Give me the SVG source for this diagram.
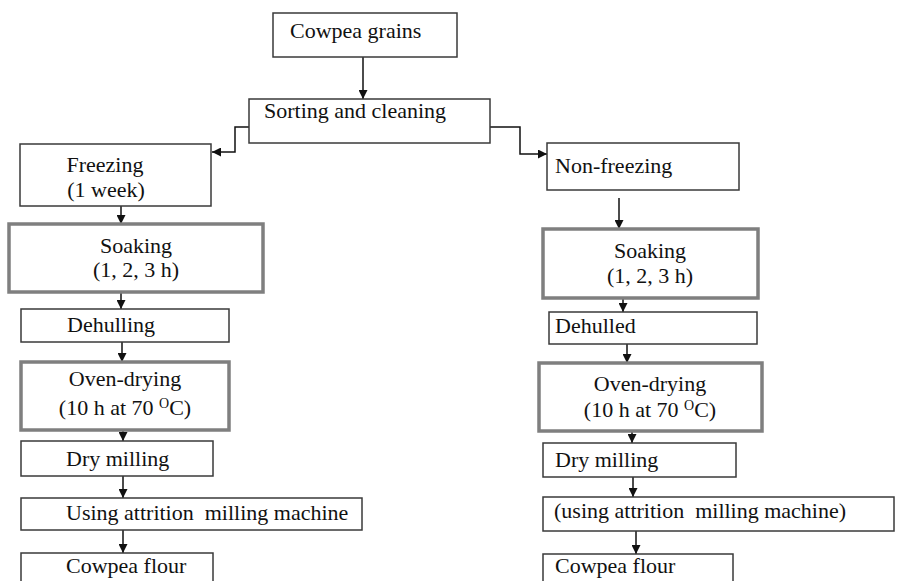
<svg xmlns="http://www.w3.org/2000/svg" width="897" height="581" viewBox="0 0 897 581">
<style>
.box{fill:#fff;stroke:#3a3a3a;stroke-width:1.5}
.thick{fill:#fff;stroke:#7f7f7f;stroke-width:3.5}
.m{text-anchor:middle}
.con{fill:none;stroke:#111;stroke-width:1.5;marker-end:url(#ah)}
</style>
<defs>
<marker id="ah" markerUnits="userSpaceOnUse" markerWidth="9" markerHeight="9" refX="9" refY="4.5" orient="auto">
<path d="M0,0 L9,4.5 L0,9 z" fill="#111"/>
</marker>
</defs>
<rect width="897" height="581" fill="#fff"/>
<g id="connectors">
<path class="con" d="M363,57 V99"/>
<path class="con" d="M249,127 H235 V152 H212"/>
<path class="con" d="M490,127 H520 V154 H547"/>
<path class="con" d="M121,206 V224"/>
<path class="con" d="M121,292 V309"/>
<path class="con" d="M122,342 V362"/>
<path class="con" d="M123,430 V441"/>
<path class="con" d="M123,476 V498"/>
<path class="con" d="M123,530 V553"/>
<path class="con" d="M619,198 V229"/>
<path class="con" d="M623,298 V312"/>
<path class="con" d="M627,344 V363"/>
<path class="con" d="M632,431 V443"/>
<path class="con" d="M633,477 V497"/>
<path class="con" d="M636,531 V554"/>
</g>
<g id="cowpea-grains"><rect class="box" x="273" y="13" width="184" height="44"/><text font-family="'Liberation Serif', serif" font-size="22" fill="#111" x="290" y="38">Cowpea grains</text></g>
<g id="sorting"><rect class="box" x="249" y="99" width="241" height="44"/><text font-family="'Liberation Serif', serif" font-size="22" fill="#111" x="264" y="118">Sorting and cleaning</text></g>
<g id="freezing"><rect class="box" x="20" y="144" width="191" height="62"/><text font-family="'Liberation Serif', serif" font-size="22" fill="#111" class="m" x="105" y="172">Freezing</text><text font-family="'Liberation Serif', serif" font-size="22" fill="#111" class="m" x="106" y="197">(1 week)</text></g>
<g id="non-freezing"><rect class="box" x="547" y="143" width="192" height="47"/><text font-family="'Liberation Serif', serif" font-size="22" fill="#111" x="555" y="173">Non-freezing</text></g>
<g id="soaking-left"><rect class="thick" x="9" y="224" width="254" height="68"/><text font-family="'Liberation Serif', serif" font-size="22" fill="#111" class="m" x="136" y="253">Soaking</text><text font-family="'Liberation Serif', serif" font-size="22" fill="#111" class="m" x="136" y="277">(1, 2, 3 h)</text></g>
<g id="soaking-right"><rect class="thick" x="543" y="229" width="215" height="69"/><text font-family="'Liberation Serif', serif" font-size="22" fill="#111" class="m" x="650" y="258">Soaking</text><text font-family="'Liberation Serif', serif" font-size="22" fill="#111" class="m" x="650" y="283">(1, 2, 3 h)</text></g>
<g id="dehulling"><rect class="box" x="21" y="309" width="208" height="33"/><text font-family="'Liberation Serif', serif" font-size="22" fill="#111" x="67" y="332">Dehulling</text></g>
<g id="dehulled"><rect class="box" x="549" y="312" width="208" height="32"/><text font-family="'Liberation Serif', serif" font-size="22" fill="#111" x="555" y="333">Dehulled</text></g>
<g id="oven-left"><rect class="thick" x="21" y="362" width="208" height="68"/><text font-family="'Liberation Serif', serif" font-size="22" fill="#111" class="m" x="125" y="386">Oven-drying</text><text font-family="'Liberation Serif', serif" font-size="22" fill="#111" class="m" x="125" y="415">(10 h at 70 <tspan font-size="14" dy="-7">O</tspan><tspan dy="7">C)</tspan></text></g>
<g id="oven-right"><rect class="thick" x="539" y="363" width="223" height="68"/><text font-family="'Liberation Serif', serif" font-size="22" fill="#111" class="m" x="650" y="391">Oven-drying</text><text font-family="'Liberation Serif', serif" font-size="22" fill="#111" class="m" x="650" y="417">(10 h at 70 <tspan font-size="14" dy="-7">O</tspan><tspan dy="7">C)</tspan></text></g>
<g id="dry-milling-left"><rect class="box" x="21" y="441" width="192" height="35"/><text font-family="'Liberation Serif', serif" font-size="22" fill="#111" x="66" y="466">Dry milling</text></g>
<g id="dry-milling-right"><rect class="box" x="543" y="443" width="193" height="34"/><text font-family="'Liberation Serif', serif" font-size="22" fill="#111" x="555" y="467">Dry milling</text></g>
<g id="attrition-left"><rect class="box" x="21" y="498" width="341" height="32"/><text font-family="'Liberation Serif', serif" font-size="22" fill="#111" x="66" y="520" xml:space="preserve">Using attrition  milling machine</text></g>
<g id="attrition-right"><rect class="box" x="543" y="497" width="351" height="34"/><text font-family="'Liberation Serif', serif" font-size="22" fill="#111" x="554" y="518" xml:space="preserve">(using attrition  milling machine)</text></g>
<g id="flour-left"><rect class="box" x="21" y="553" width="192" height="40"/><text font-family="'Liberation Serif', serif" font-size="22" fill="#111" x="66" y="573">Cowpea flour</text></g>
<g id="flour-right"><rect class="box" x="543" y="554" width="190" height="40"/><text font-family="'Liberation Serif', serif" font-size="22" fill="#111" x="555" y="573">Cowpea flour</text></g>
</svg>
